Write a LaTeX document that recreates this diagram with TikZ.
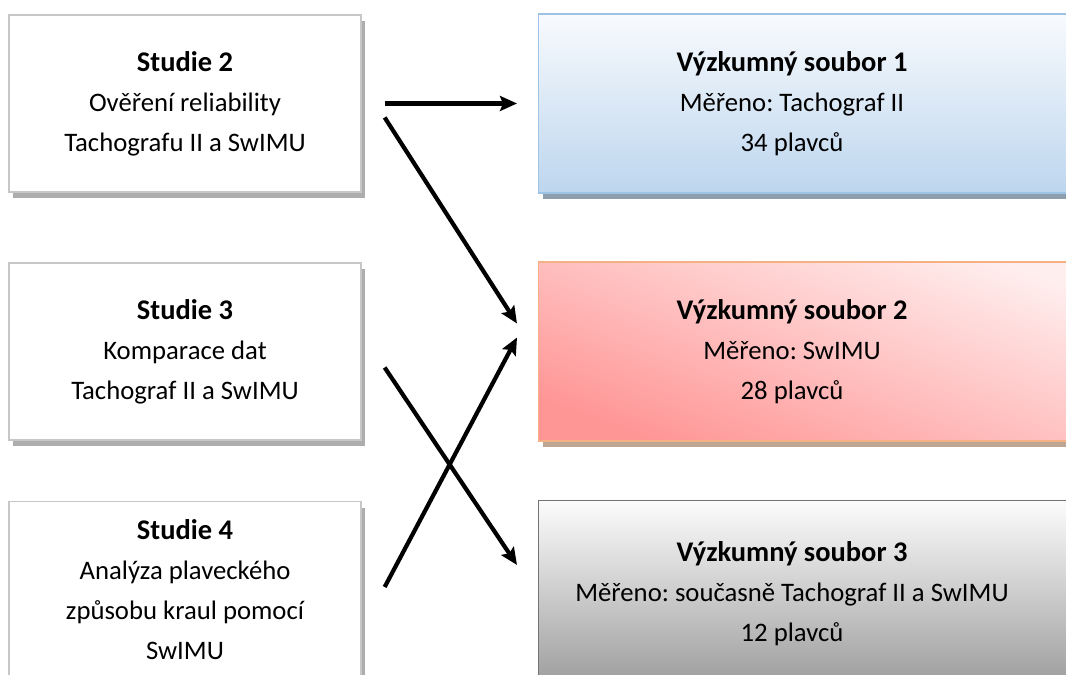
\documentclass[tikz,border=0pt]{standalone}
\usepackage{fontspec}
\setmainfont{Carlito}
\frenchspacing
\usetikzlibrary{arrows.meta, calc, shadows}
\definecolor{setblue}{RGB}{189, 214, 238}
\definecolor{setbluetop}{RGB}{248, 250, 253}
\definecolor{setblueline}{RGB}{157, 195, 230}
\definecolor{setpink}{RGB}{255, 150, 150}
\definecolor{setpinktop}{RGB}{255, 238, 238}
\definecolor{setpinkline}{RGB}{245, 177, 131}
\definecolor{setgray}{RGB}{160, 160, 160}
\definecolor{setgraytop}{RGB}{252, 252, 252}
\definecolor{setgrayline}{RGB}{115, 115, 115}
\newcommand{\boxtitle}[1]{{\fontsize{16.2}{22.8}\selectfont\bfseries #1}}

\begin{document}
\begin{tikzpicture}[x=0.02cm, y=-0.02cm,
  every node/.style={font=\fontsize{15.2}{22.8}\selectfont},
  studybox/.style={draw=black!22, fill=white, line width=0.8pt, minimum width=7.04cm, minimum height=3.54cm, align=center, drop shadow={shadow xshift=0.08cm, shadow yshift=-0.12cm, fill=black!32, opacity=1}},
  setbox/.style={line width=0.8pt, minimum width=11.6cm, minimum height=3.58cm, anchor=west},
  settext/.style={align=center},
  arrow/.style={-{Stealth[length=3.4mm, width=3mm, inset=0.6mm]}, line width=2.4pt},
]
\useasboundingbox (0,0) rectangle (1066,675);
\clip (0,0) rectangle (1066,675);

% Studies
\node[studybox] (s2) at (185,103.5) {\boxtitle{Studie 2}\\Ověření reliability\\Tachografu II a SwIMU};
\node[studybox] (s3) at (185,351.5) {\boxtitle{Studie 3}\\Komparace dat\\Tachograf II a SwIMU};
\node[studybox] (s4) at (185,590) {\boxtitle{Studie 4}\\Analýza plaveckého\\způsobu kraul pomocí\\SwIMU};

% Research sets
\node[setbox, draw=setblueline, top color=setbluetop, bottom color=setblue, drop shadow={shadow xshift=0.08cm, shadow yshift=-0.12cm, fill=setblueline!60!black!70, opacity=1}] (set1) at (538,103.5) {};
\node[setbox, draw=setpinkline, top color=setpinktop, bottom color=setpink, shading angle=-20, drop shadow={shadow xshift=0.08cm, shadow yshift=-0.12cm, fill=setpinkline!60!black!60, opacity=1}] (set2) at (538,351.5) {};
\node[setbox, draw=setgrayline, top color=setgraytop, bottom color=setgray, drop shadow={shadow xshift=0.08cm, shadow yshift=-0.12cm, fill=black!45, opacity=1}] (set3) at (538,590) {};

\node[settext] (set1t) at (792,104) {\boxtitle{Výzkumný soubor 1}\\Měřeno: Tachograf II\\34 plavců};
\node[settext] (set2t) at (792,352) {\boxtitle{Výzkumný soubor 2}\\Měřeno: SwIMU\\28 plavců};
\node[settext] (set3t) at (792,594) {\boxtitle{Výzkumný soubor 3}\\Měřeno: současně Tachograf II a SwIMU\\12 plavců};

% Arrows
\draw[arrow] ($(s2.east)+(23,0)$) -- ($(set1.west)+(-21,0)$);
\draw[arrow] ($(s2.east)+(23,14)$) -- ($(set2.west)+(-21,-28)$);
\draw[arrow] ($(s3.east)+(23,16)$) -- ($(set3.west)+(-21,-25)$);
\draw[arrow] ($(s4.east)+(23,-3)$) -- ($(set2.west)+(-21,-14)$);
\end{tikzpicture}
\end{document}
